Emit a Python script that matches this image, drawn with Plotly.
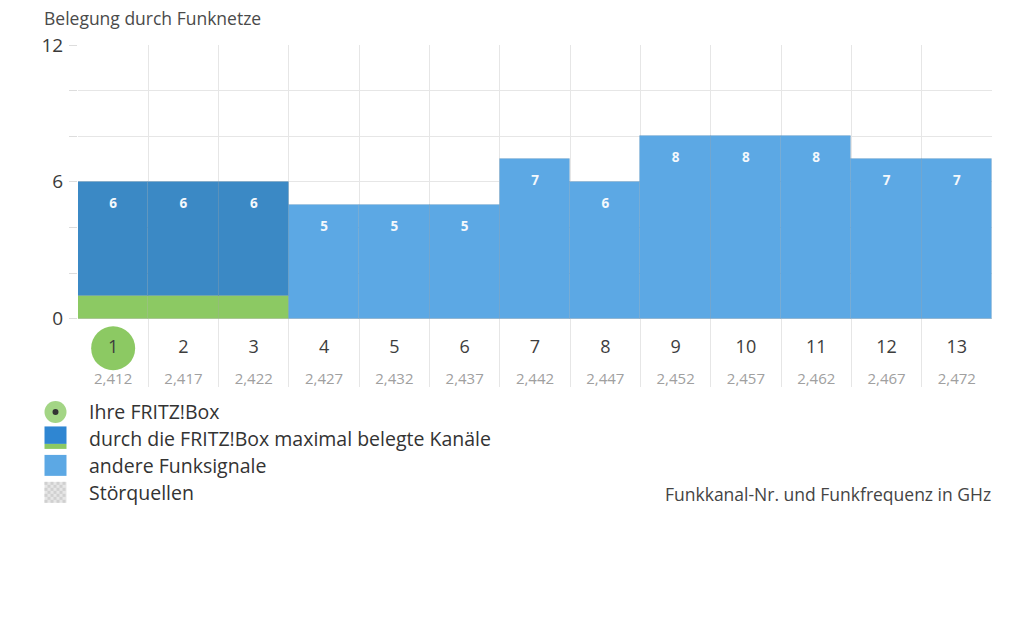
import plotly.graph_objects as go

# ---- data ----
channels = list(range(1, 14))
frequencies = ["2,412", "2,417", "2,422", "2,427", "2,432", "2,437", "2,442",
               "2,447", "2,452", "2,457", "2,462", "2,467", "2,472"]
occupancy = [6, 6, 6, 5, 5, 5, 7, 6, 8, 8, 8, 7, 7]
fritz_channels = [1, 2, 3]
fritz_own_height = [1, 1, 1]
own_channel = 1
y_ticks = [0, 2, 4, 6, 8, 10, 12]
y_ticklabels = ["0", "", "", "6", "", "", "12"]
legend_labels = ["Ihre FRITZ!Box", "durch die FRITZ!Box maximal belegte Kanäle",
                 "andere Funksignale", "Störquellen"]
title_text = "Belegung durch Funknetze"
axis_note = "Funkkanal-Nr. und Funkfrequenz in GHz"

# ---- styles ----
FONT = "Open Sans"
GREEN = "#8cc963"
DARK = "#3b89c5"
LIGHT = "#5ca8e4"
EDGE = "rgba(0,0,0,0.06)"

W, H = 1024, 642
ML, MR, MT, MB = 78, 32, 45, 254.5
YMIN, YMAX = -3, 12
plot_h = H - MT - MB


def py(pix):
    return (H - MB - pix) / plot_h


def px(pix):
    return (pix - ML) / (W - ML - MR)


fig = go.Figure()

others_x = [c for c in channels if c not in fritz_channels]
others_y = [occupancy[c - 1] for c in others_x]
fritz_top = [occupancy[c - 1] - h for c, h in zip(fritz_channels, fritz_own_height)]

fig.add_trace(go.Bar(x=fritz_channels, y=fritz_own_height, base=0, width=1,
                     marker=dict(color=GREEN, line=dict(width=1, color=EDGE)),
                     hoverinfo="skip"))
fig.add_trace(go.Bar(x=fritz_channels, y=fritz_top, base=fritz_own_height, width=1,
                     marker=dict(color=DARK, line=dict(width=1, color=EDGE)),
                     hoverinfo="skip"))
fig.add_trace(go.Bar(x=others_x, y=others_y, base=0, width=1,
                     marker=dict(color=LIGHT, line=dict(width=1, color=EDGE)),
                     hoverinfo="skip"))

# value labels inside bars
fig.add_trace(go.Scatter(x=channels, y=[v - 1 for v in occupancy], mode="text",
                         text=["<b>%d</b>" % v for v in occupancy],
                         textfont=dict(family=FONT, size=13.5, color="#f4f8fc"),
                         hoverinfo="skip", cliponaxis=False))

# own channel marker
fig.add_trace(go.Scatter(x=[own_channel], y=[-1.3], mode="markers",
                         marker=dict(size=44, color=GREEN, line=dict(width=0)),
                         hoverinfo="skip", cliponaxis=False))

# channel numbers
fig.add_trace(go.Scatter(x=channels, y=[-1.3] * len(channels), mode="text",
                         text=[str(c) for c in channels],
                         textfont=dict(family=FONT, size=18, color="#3d3d3d"),
                         hoverinfo="skip", cliponaxis=False))
# frequencies
fig.add_trace(go.Scatter(x=channels, y=[-2.7] * len(channels), mode="text",
                         text=frequencies,
                         textfont=dict(family=FONT, size=15, color="#a0a0a0"),
                         hoverinfo="skip", cliponaxis=False))

shapes = []
annotations = []

# legend icons
shapes.append(dict(type="circle", xref="paper", yref="paper",
                   x0=px(44.5), x1=px(66.5), y0=py(423.5), y1=py(401.5),
                   fillcolor="#a3d585", line=dict(width=0)))
shapes.append(dict(type="circle", xref="paper", yref="paper",
                   x0=px(52.5), x1=px(58.5), y0=py(415.5), y1=py(409.5),
                   fillcolor="#333333", line=dict(width=0)))
shapes.append(dict(type="rect", xref="paper", yref="paper",
                   x0=px(44.5), x1=px(66.5), y0=py(444.5), y1=py(427),
                   fillcolor="#2f86d2", line=dict(width=0)))
shapes.append(dict(type="rect", xref="paper", yref="paper",
                   x0=px(44.5), x1=px(66.5), y0=py(449.5), y1=py(444.5),
                   fillcolor=GREEN, line=dict(width=0)))
shapes.append(dict(type="rect", xref="paper", yref="paper",
                   x0=px(44.5), x1=px(66.5), y0=py(476.5), y1=py(455.5),
                   fillcolor=LIGHT, line=dict(width=0)))
shapes.append(dict(type="rect", xref="paper", yref="paper",
                   x0=px(44.5), x1=px(66.5), y0=py(503.5), y1=py(482.5),
                   fillcolor="#e6e6e6", line=dict(width=0)))
step = 3
for i in range(7):
    for j in range(7):
        if (i + j) % 2 == 0:
            x0 = 44.5 + i * step
            y0 = 482.5 + j * step
            shapes.append(dict(type="rect", xref="paper", yref="paper",
                               x0=px(x0), x1=px(min(x0 + step, 66.5)),
                               y0=py(min(y0 + step, 503.5)), y1=py(y0),
                               fillcolor="#d0d0d0", line=dict(width=0)))

for label, yc in zip(legend_labels, [412, 439, 466, 493]):
    annotations.append(dict(text=label, xref="paper", yref="paper",
                            x=px(87), y=py(yc), xanchor="left", yanchor="middle",
                            showarrow=False,
                            font=dict(family=FONT, size=19.5, color="#333333")))

annotations.append(dict(text=title_text, xref="paper", yref="paper",
                        x=px(42), y=py(18), xanchor="left", yanchor="middle",
                        showarrow=False,
                        font=dict(family=FONT, size=17.5, color="#4a4a4a")))
annotations.append(dict(text=axis_note, xref="paper", yref="paper",
                        x=px(993), y=py(495), xanchor="right", yanchor="middle",
                        showarrow=False,
                        font=dict(family=FONT, size=17.5, color="#444444")))

fig.update_layout(
    width=W, height=H,
    margin=dict(l=ML, r=MR, t=MT, b=MB, pad=0),
    paper_bgcolor="white", plot_bgcolor="white",
    barmode="overlay", bargap=0, showlegend=False,
    shapes=shapes, annotations=annotations,
    font=dict(family=FONT),
    xaxis=dict(range=[0.5, 13.5], tickvals=[c - 0.5 for c in channels] + [13.5],
               showticklabels=False, ticks="", showgrid=True,
               gridcolor="#e6e6e6", gridwidth=1, zeroline=False, showline=False,
               fixedrange=True),
    yaxis=dict(range=[YMIN, YMAX], tickvals=y_ticks, ticktext=y_ticklabels,
               ticks="outside", ticklen=8, tickcolor="#dddddd",
               ticklabelstandoff=2,
               tickfont=dict(family=FONT, size=19, color="#3a3a3a"),
               showgrid=True, gridcolor="#e6e6e6", gridwidth=1,
               zeroline=True, zerolinecolor="#dcdcdc", zerolinewidth=1,
               showline=False, fixedrange=True),
)

fig.write_html("out.html")
